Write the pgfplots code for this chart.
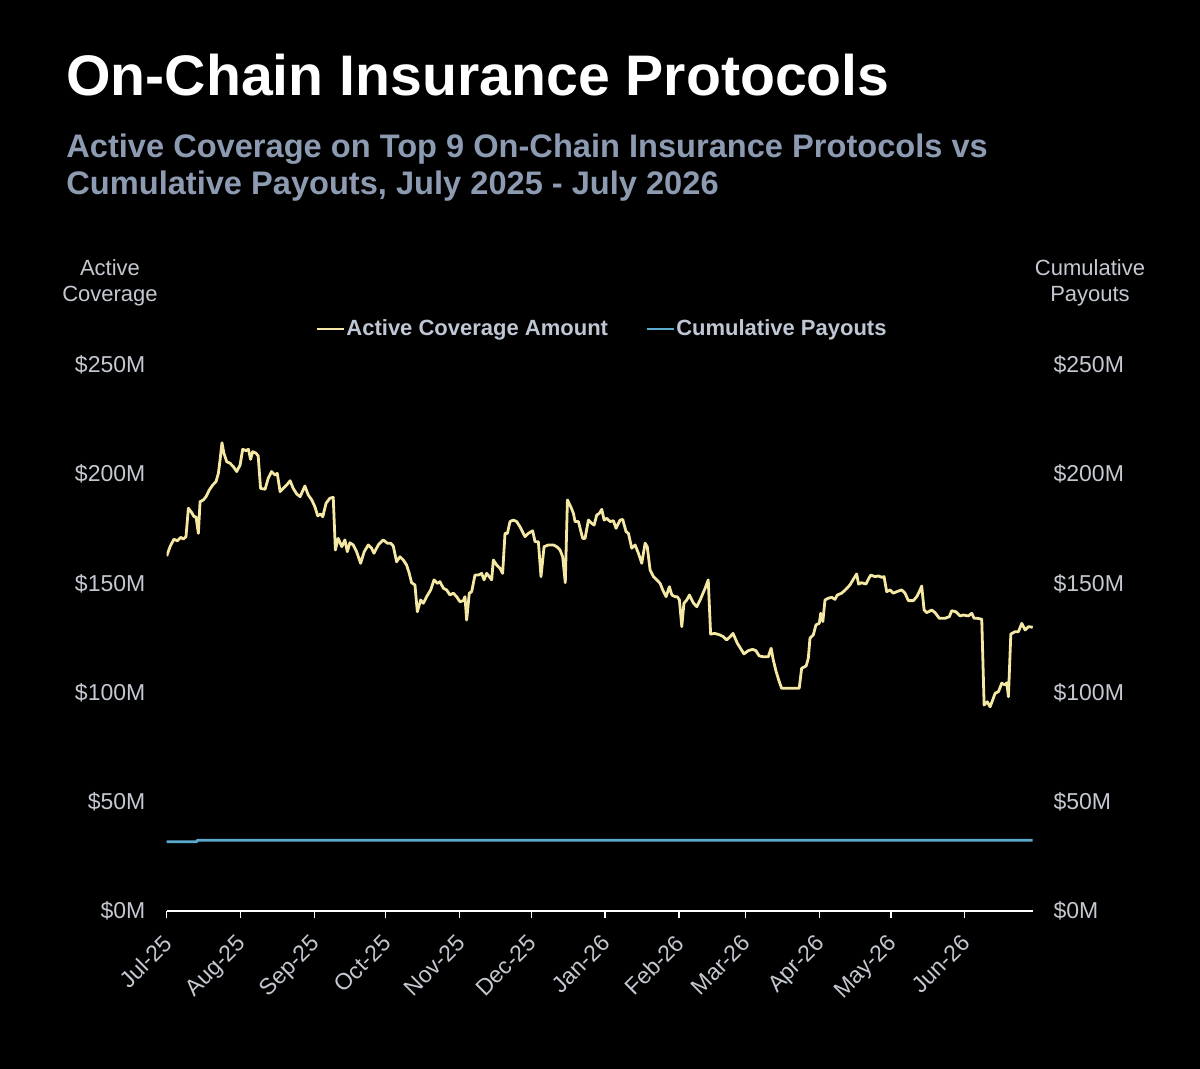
\documentclass[border=0pt]{standalone}
\usepackage{fontspec}
\setmainfont{Liberation Sans}
\usepackage{pgfplots}
\pgfplotsset{compat=1.18}
\definecolor{covyellow}{HTML}{F4E8A4}
\definecolor{payblue}{HTML}{5BA9CF}
\definecolor{tickgray}{HTML}{C4C8D0}
\definecolor{subgray}{HTML}{8D9BB2}
\definecolor{leggray}{HTML}{BFC6D4}

\pgfplotstableread{
day val
0 162.5
1.4 166.8
3 170.2
4.5 169.5
5.9 171.1
7 170.3
8.1 171.4
9.1 184.4
10.5 182.4
11.5 180.5
12.3 180.5
13.3 172.9
14 187.4
15.4 188.2
16.5 189.7
17.9 192.8
19.3 195
20.7 196.6
21.7 200.4
22.4 206.5
23.2 214.4
24 209.6
25.2 205.7
26.6 205
28 203.4
29.4 201.2
30.8 204.2
31.9 211.4
33.3 210.8
34.3 211.4
35.2 206.8
36.1 210.3
37.5 209.6
38.4 208.3
39.4 193.5
41.3 193.1
42.6 198.1
44 201.2
45.5 199.6
46.4 200.4
47.6 192
48.9 193.5
50.4 195.1
51.8 197
53.1 193.5
54.6 190.9
56 189.7
58 194.6
59.4 190.5
60.9 188.2
62.2 185.1
63.4 180.9
64.6 181.8
65.5 180.5
66.9 186.7
68.5 189
69.9 189.4
70.8 165.3
72 170.6
73.5 166.8
74.8 169.9
75.8 164.5
76.9 168.6
78.3 167.6
79.7 164.5
81.4 159.2
82.9 164.5
84.6 167.6
86 166.1
87 163.8
88.8 167.6
90.9 169.9
92.6 168.4
94 168.4
95.1 167.1
96.5 159.9
97.9 162.2
99.3 160.7
100.7 158.4
101.8 154.6
102.8 150.3
104.2 149.3
105.2 137
106.6 142.4
107.7 140.9
109.1 143.9
110.8 147
112.2 151.6
113.6 150
114.7 150.8
116.1 147.8
117.5 147
118.9 144.7
120.3 145.5
121.7 143.9
123.1 141.6
124.5 142.1
125.2 143.9
125.9 133.2
127 145.5
128 146.2
129.4 153.8
130.8 153.8
132.2 154.6
133.2 151.6
134.3 154.6
135.4 153.1
136.4 151.6
137.1 160.7
138.5 158.4
139.9 156.9
141 154.6
142 172.9
143 172.9
144.1 178.3
145.5 179
146.9 178.3
148.3 175.9
150.4 171.4
151.8 172.9
153.6 174.1
154.6 169.1
156 169.1
157.1 153.1
158.4 166.8
160.2 167.6
162.3 167.6
163.7 166.8
165.1 165.3
166.2 162.2
167.3 150.3
168.2 188.2
169.6 185.1
170.7 182.1
171.4 178.3
172.8 178.3
174.6 170.6
175.6 170.6
177 179
178.4 177.5
179.4 176.7
180.5 181.3
181.6 182.1
182.6 183.9
183.6 179
184.7 179.8
186.1 178.3
187.5 178.7
188.6 175.2
190.3 179
191.4 179.3
192.8 173.7
193.8 172.9
195.2 166.1
196.6 167.6
198 163.8
199.4 159.2
200.8 168.4
201.7 166.8
202.9 156.1
204.3 153.1
205.7 151.6
207.1 150
208.2 147
209.6 143.9
211 148.5
212 144.7
213.4 143.9
214.3 143.9
215.2 142.4
216.2 130.2
217.1 140.9
218.3 142.4
219.4 144.7
221 141.1
222.5 139.3
223.9 142.4
226 147.8
227.3 151.6
228.3 126.8
230.1 127.1
232.2 126.4
233.6 125.6
235 124.1
236.5 125.6
237.7 127.1
239.5 122.6
240.6 120.7
242.3 117.7
244.1 119.2
245.9 119.8
247.3 119.2
248.7 116.8
250.4 116.4
252.5 116.4
253.7 120.3
254.6 114.9
255.8 109.6
257.1 105
258.1 102
261.6 102
265.5 102
266.5 111.1
268.4 112.2
269.3 115.7
270 124.9
271.4 126.4
272.5 131
273.9 131.7
274.5 136.3
275.4 132.5
276.3 142.4
277.7 143.2
279.1 143.6
280.5 142.7
281.5 144.7
283.3 145.5
285.1 147.3
286.8 149.3
288.2 151.9
289.6 154.3
290.4 149.7
291.7 150.3
293.5 149.7
294.5 151.9
295.5 153.8
297.3 153.1
298.7 153.4
300.1 152.8
301.1 153.1
302.2 146.2
303.6 147
305 145.5
306.4 146.2
308.5 147
309.9 145.5
311.3 142.1
313.4 142.1
314.8 143.9
315.9 146.2
316.9 148.8
317.9 137.8
319 136.6
321.1 137.8
322.5 136.6
324.3 134
326.7 134
328.5 134.8
329.5 137.5
331.3 137
333 135.1
334.4 135.5
336.5 135.1
337.9 136.3
338.9 134
340.3 134
342.1 133.6
343.1 94.3
344.4 95.8
345.6 93.5
346.7 96.6
347.7 99.7
349.1 100.4
350.5 104.3
351.9 103.5
352.6 104.5
353.3 98.1
354.3 126.8
356.1 127.9
357.5 127.9
358.9 131.7
360.3 128.7
361.7 130.2
363.5 129.9
}\coverage

\pgfplotstableread{
day val
0 31.7
12.5 31.7
13 32.4
363.5 32.4
}\payouts

\begin{document}
\begin{tikzpicture}
\useasboundingbox (-83.35pt,-79pt) rectangle (516.65pt,455.5pt);
\fill[black] (-83.35pt,-79pt) rectangle (516.65pt,455.5pt);

\begin{axis}[
  at={(0pt,0pt)}, anchor=south west,
  scale only axis, width=433.25pt, height=273pt,
  xmin=0, xmax=363.7, ymin=0, ymax=250,
  axis x line*=bottom, axis y line*=left,
  x axis line style={white, line width=0.75pt, -},
  y axis line style={draw=none},
  xtick={0,31,62,92,123,153,184,215,243,274,304,335},
  xticklabels={Jul-25,Aug-25,Sep-25,Oct-25,Nov-25,Dec-25,Jan-26,Feb-26,Mar-26,Apr-26,May-26,Jun-26},
  ytick={0,50,100,150,200,250},
  yticklabels={\$0M,\$50M,\$100M,\$150M,\$200M,\$250M},
  tick align=outside, major tick length=3.5pt,
  xtick style={white, line width=0.6pt},
  ytick style={draw=none},
  xticklabel style={font=\fontsize{11.5}{13.8}\selectfont, text=tickgray, xshift=-2.5pt, yshift=-7.5pt, rotate=45, anchor=north east, inner sep=0pt},
  yticklabel style={font=\fontsize{11.5}{13.8}\selectfont, text=tickgray, anchor=east, inner sep=0pt, xshift=-7pt},
  legend columns=2,
  legend image code/.code={\draw[#1] (0pt,0pt) -- (13.5pt,0pt);},
  legend style={at={(0.1712,1.066)}, anchor=west, draw=none, fill=none,
    text=leggray, font=\bfseries\fontsize{11}{13}\selectfont, inner sep=0pt,
    nodes={inner sep=0.6pt},
    /tikz/every even column/.append style={column sep=18pt}},
]
\addplot[covyellow, line width=1.4pt, line join=round] table[x=day, y=val] {\coverage};
\addlegendentry{Active Coverage Amount}
\addlegendimage{payblue, line width=1.4pt}
\addlegendentry{Cumulative Payouts}
\end{axis}

\begin{axis}[
  at={(0pt,0pt)}, anchor=south west,
  scale only axis, width=433.25pt, height=273pt,
  xmin=0, xmax=363.7, ymin=0, ymax=250,
  axis x line=none, axis y line*=right,
  y axis line style={draw=none},
  ytick={0,50,100,150,200,250},
  yticklabels={\$0M,\$50M,\$100M,\$150M,\$200M,\$250M},
  tick align=outside, major tick length=3.5pt,
  ytick style={draw=none},
  yticklabel style={font=\fontsize{11.5}{13.8}\selectfont, text=tickgray, anchor=west, inner sep=0pt, xshift=6.5pt},
]
\addplot[payblue, line width=1.4pt] table[x=day, y=val] {\payouts};
\end{axis}

\node[anchor=base west, inner sep=0pt, text=white, font=\bfseries\fontsize{28.6}{34}\selectfont] at (-50.35pt,407.5pt) {On-Chain Insurance Protocols};
\node[anchor=base west, inner sep=0pt, text=subgray, font=\bfseries\fontsize{16.3}{19}\selectfont] at (-50.35pt,376.85pt) {Active Coverage on Top 9 On-Chain Insurance Protocols vs};
\node[anchor=base west, inner sep=0pt, text=subgray, font=\bfseries\fontsize{16.3}{19}\selectfont] at (-50.35pt,358pt) {Cumulative Payouts, July 2025 - July 2026};

\node[anchor=base, inner sep=0pt, text=tickgray, font=\fontsize{11}{13}\selectfont] at (-28.35pt,317.5pt) {Active};
\node[anchor=base, inner sep=0pt, text=tickgray, font=\fontsize{11}{13}\selectfont] at (-28.35pt,304.5pt) {Coverage};
\node[anchor=base, inner sep=0pt, text=tickgray, font=\fontsize{11}{13}\selectfont] at (461.65pt,317.5pt) {Cumulative};
\node[anchor=base, inner sep=0pt, text=tickgray, font=\fontsize{11}{13}\selectfont] at (461.65pt,304.5pt) {Payouts};
\end{tikzpicture}
\end{document}
